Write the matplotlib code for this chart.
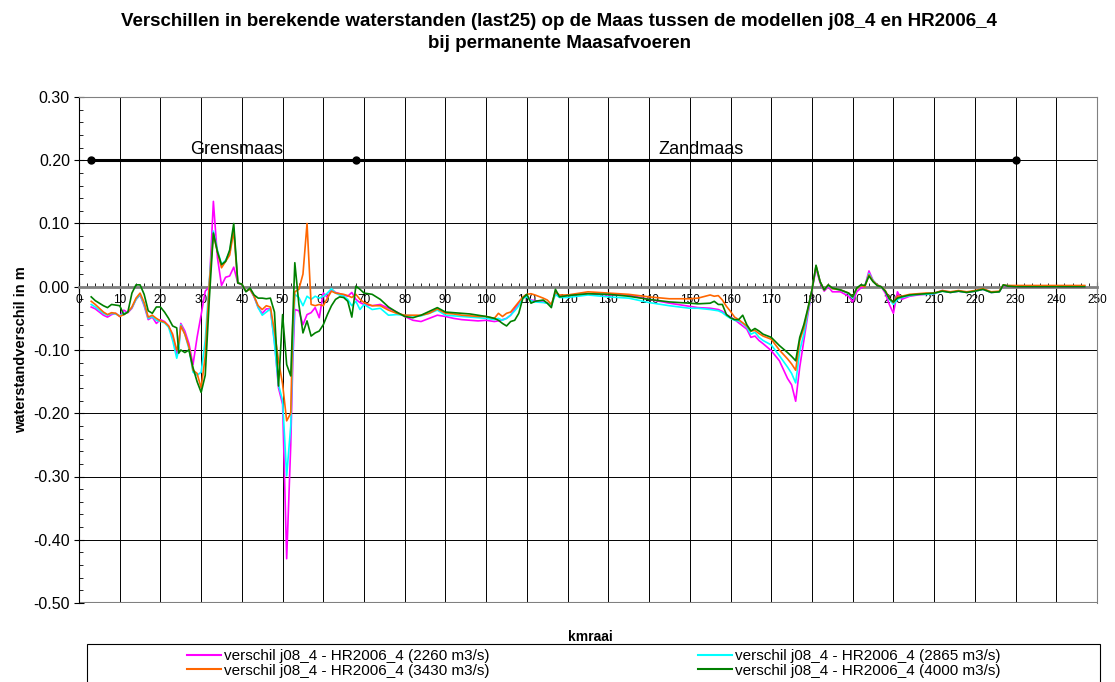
import numpy as np
import matplotlib
matplotlib.use('Agg')
import matplotlib.pyplot as plt
from matplotlib.ticker import MultipleLocator, FormatStrFormatter
from matplotlib.patches import Rectangle
from matplotlib.lines import Line2D

plt.rcParams['font.family'] = ['Liberation Sans', 'DejaVu Sans']

# kilometerraaien langs de Maas
km = [3, 4, 5, 6, 7, 8, 9, 10, 11, 12, 13, 14, 15, 16, 17, 18, 19, 20, 21, 22, 23, 24, 24.5,
      25, 26, 27, 28, 29, 30, 31, 32, 33, 34, 35, 36, 37, 38, 39, 40, 41, 42, 43, 44, 45, 46,
      47, 48, 49, 50, 51, 52, 52.5, 53, 54, 55, 56, 57, 58, 59, 60, 61, 62, 63, 64, 65, 66,
      67, 68, 69, 70, 72, 74, 76, 78, 80, 82, 84, 86, 88, 90, 92, 94, 96, 98, 100, 102, 103,
      104, 105, 106, 107, 108, 109, 110, 111, 112, 114, 115, 116, 117, 118, 120, 125, 130,
      135, 140, 145, 150, 152, 155, 156, 157, 158, 159, 160, 161, 162, 163, 164, 165, 166,
      167, 168, 170, 172, 174, 175, 176, 177, 178, 179, 180, 181, 182, 183, 184, 185, 187,
      189, 190, 191, 192, 193, 194, 195, 196, 197, 198, 199, 200, 201, 202, 204, 206, 208,
      210, 212, 214, 216, 218, 220, 222, 224, 226, 227, 228, 230, 235, 240, 247]

# verschil j08_4 - HR2006_4 (2260 m3/s)
q2260 = [-0.032, -0.035, -0.040, -0.045, -0.048, -0.044, -0.042, -0.047, -0.037, -0.041,
         -0.034, -0.020, -0.013, -0.030, -0.052, -0.048, -0.058, -0.052, -0.055, -0.062,
         -0.078, -0.108, -0.095, -0.058, -0.070, -0.090, -0.123, -0.080, -0.044, -0.007,
         0.000, 0.135, 0.046, 0.002, 0.015, 0.017, 0.031, 0.006, 0.003, -0.007, -0.004,
         -0.016, -0.033, -0.042, -0.035, -0.035, -0.086, -0.160, -0.186, -0.430, -0.250,
         -0.120, -0.036, -0.038, -0.060, -0.044, -0.041, -0.033, -0.049, -0.010, -0.017,
         -0.004, -0.009, -0.011, -0.013, -0.015, -0.009, -0.020, -0.025, -0.028, -0.030,
         -0.028, -0.034, -0.040, -0.047, -0.053, -0.055, -0.050, -0.045, -0.047, -0.050,
         -0.052, -0.053, -0.054, -0.053, -0.055, -0.054, -0.052, -0.050, -0.045, -0.035,
         -0.026, -0.018, -0.015, -0.021, -0.022, -0.024, -0.026, -0.029, -0.010, -0.015,
         -0.014, -0.011, -0.013, -0.013, -0.020, -0.026, -0.031, -0.033, -0.034, -0.035,
         -0.036, -0.039, -0.044, -0.048, -0.052, -0.057, -0.062, -0.067, -0.080, -0.078,
         -0.085, -0.090, -0.101, -0.117, -0.145, -0.155, -0.181, -0.127, -0.085, -0.044,
         -0.006, 0.029, 0.006, -0.007, 0.000, -0.008, -0.008, -0.015, -0.024, -0.008,
         -0.002, 0.001, 0.025, 0.010, 0.003, 0.000, -0.010, -0.028, -0.042, -0.008, -0.020,
         -0.015, -0.013, -0.012, -0.011, -0.006, -0.009, -0.007, -0.009, -0.007, -0.004,
         -0.009, -0.008, 0.002, 0.001, 0.000, 0.000, 0.000, 0.000]

# verschil j08_4 - HR2006_4 (2865 m3/s)
q2865 = [-0.028, -0.032, -0.037, -0.042, -0.045, -0.042, -0.043, -0.046, -0.042, -0.040,
         -0.033, -0.020, -0.012, -0.028, -0.050, -0.047, -0.053, -0.055, -0.057, -0.064,
         -0.085, -0.113, -0.100, -0.060, -0.075, -0.098, -0.135, -0.140, -0.135, -0.085,
         0.010, 0.088, 0.058, 0.035, 0.042, 0.055, 0.093, 0.006, 0.004, -0.007, -0.004,
         -0.015, -0.033, -0.045, -0.040, -0.035, -0.090, -0.155, -0.180, -0.299, -0.220,
         -0.100, -0.012, -0.017, -0.030, -0.015, -0.020, -0.015, -0.018, -0.015, -0.010,
         -0.003, -0.010, -0.013, -0.015, -0.020, -0.030, -0.023, -0.036, -0.028, -0.036,
         -0.034, -0.045, -0.044, -0.045, -0.046, -0.046, -0.042, -0.037, -0.045, -0.046,
         -0.047, -0.048, -0.049, -0.050, -0.052, -0.050, -0.053, -0.050, -0.045, -0.038,
         -0.030, -0.018, -0.016, -0.022, -0.024, -0.025, -0.026, -0.030, -0.012, -0.017,
         -0.017, -0.013, -0.016, -0.018, -0.025, -0.030, -0.034, -0.034, -0.036, -0.037,
         -0.038, -0.041, -0.046, -0.050, -0.053, -0.054, -0.058, -0.064, -0.075, -0.072,
         -0.080, -0.085, -0.092, -0.109, -0.127, -0.137, -0.152, -0.101, -0.075, -0.040,
         -0.005, 0.032, 0.008, -0.005, 0.002, -0.003, -0.005, -0.011, -0.018, -0.003,
         0.002, 0.001, 0.021, 0.010, 0.003, 0.000, -0.007, -0.020, -0.028, -0.020, -0.017,
         -0.014, -0.012, -0.012, -0.011, -0.007, -0.009, -0.007, -0.009, -0.007, -0.004,
         -0.009, -0.008, 0.003, 0.002, 0.001, 0.001, 0.001, 0.001]

# verschil j08_4 - HR2006_4 (3430 m3/s)
q3430 = [-0.023, -0.028, -0.034, -0.040, -0.044, -0.041, -0.042, -0.047, -0.044, -0.040,
         -0.032, -0.018, -0.010, -0.025, -0.048, -0.045, -0.050, -0.054, -0.056, -0.062,
         -0.075, -0.100, -0.090, -0.062, -0.075, -0.095, -0.132, -0.137, -0.160, -0.110,
         0.005, 0.083, 0.055, 0.030, 0.040, 0.050, 0.088, 0.006, 0.004, -0.007, -0.004,
         -0.015, -0.030, -0.036, -0.030, -0.032, -0.070, -0.117, -0.154, -0.212, -0.200,
         -0.060, -0.008, -0.004, 0.020, 0.100, -0.028, -0.030, -0.028, -0.030, -0.018,
         -0.007, -0.010, -0.011, -0.012, -0.014, -0.017, -0.012, -0.020, -0.025, -0.030,
         -0.030, -0.037, -0.042, -0.045, -0.045, -0.045, -0.042, -0.035, -0.042, -0.043,
         -0.045, -0.046, -0.047, -0.047, -0.050, -0.042, -0.047, -0.042, -0.040, -0.032,
         -0.024, -0.016, -0.012, -0.011, -0.013, -0.018, -0.021, -0.028, -0.008, -0.013,
         -0.013, -0.008, -0.010, -0.012, -0.016, -0.019, -0.019, -0.018, -0.013, -0.015,
         -0.014, -0.021, -0.031, -0.039, -0.048, -0.052, -0.057, -0.062, -0.070, -0.069,
         -0.074, -0.078, -0.083, -0.100, -0.114, -0.122, -0.132, -0.085, -0.065, -0.036,
         -0.005, 0.033, 0.008, -0.005, 0.003, -0.003, -0.005, -0.010, -0.016, -0.003,
         0.002, 0.000, 0.019, 0.009, 0.003, 0.000, -0.006, -0.018, -0.025, -0.015, -0.015,
         -0.012, -0.011, -0.010, -0.010, -0.006, -0.008, -0.006, -0.008, -0.006, -0.003,
         -0.008, -0.007, 0.003, 0.002, 0.002, 0.002, 0.002, 0.002]

# verschil j08_4 - HR2006_4 (4000 m3/s)
q4000 = [-0.016, -0.022, -0.026, -0.030, -0.033, -0.028, -0.029, -0.030, -0.044, -0.040,
         -0.010, 0.003, 0.003, -0.012, -0.038, -0.042, -0.032, -0.032, -0.040, -0.050,
         -0.062, -0.065, -0.105, -0.100, -0.104, -0.100, -0.128, -0.150, -0.167, -0.140,
         -0.020, 0.085, 0.055, 0.035, 0.040, 0.058, 0.100, 0.006, 0.004, -0.008, -0.002,
         -0.013, -0.018, -0.018, -0.019, -0.018, -0.040, -0.157, -0.044, -0.123, -0.141,
         -0.050, 0.038, -0.028, -0.073, -0.054, -0.078, -0.073, -0.070, -0.060, -0.044,
         -0.030, -0.020, -0.016, -0.017, -0.023, -0.048, 0.001, -0.004, -0.010, -0.012,
         -0.020, -0.032, -0.040, -0.047, -0.049, -0.045, -0.039, -0.033, -0.040, -0.041,
         -0.042, -0.043, -0.045, -0.047, -0.050, -0.053, -0.058, -0.062, -0.055, -0.053,
         -0.042, -0.018, -0.012, -0.026, -0.023, -0.021, -0.026, -0.033, -0.004, -0.016,
         -0.014, -0.011, -0.012, -0.015, -0.020, -0.024, -0.026, -0.027, -0.026, -0.023,
         -0.028, -0.028, -0.044, -0.049, -0.052, -0.052, -0.045, -0.060, -0.070, -0.066,
         -0.070, -0.075, -0.080, -0.093, -0.104, -0.110, -0.117, -0.080, -0.060, -0.034,
         -0.005, 0.034, 0.008, -0.005, 0.003, -0.002, -0.005, -0.010, -0.016, -0.002,
         0.003, 0.002, 0.017, 0.008, 0.002, 0.000, -0.007, -0.019, -0.024, -0.018, -0.016,
         -0.013, -0.012, -0.011, -0.010, -0.007, -0.009, -0.007, -0.009, -0.007, -0.004,
         -0.009, -0.008, 0.003, 0.001, 0.000, 0.000, 0.000, 0.000]

series = [q2260, q2865, q3430, q4000]
labels = ['verschil j08_4 - HR2006_4 (2260 m3/s)',
          'verschil j08_4 - HR2006_4 (2865 m3/s)',
          'verschil j08_4 - HR2006_4 (3430 m3/s)',
          'verschil j08_4 - HR2006_4 (4000 m3/s)']
colors = ['#FF00FF', '#00FFFF', '#FF6600', '#008000']

# trajecten Grensmaas / Zandmaas
reach_km = [3, 68, 230]
reach_level = [0.2, 0.2, 0.2]
reach_names = ['Grensmaas', 'Zandmaas']
reach_label_km = [38.7, 152.8]

fig = plt.figure(figsize=(11.15, 6.82), dpi=100)
ax = fig.add_axes([79/1115, 1-603/682, 1018/1115, 506/682])

for s, c, l in zip(series, colors, labels):
    ax.plot(km, s, color=c, lw=1.2, label=l, zorder=3)

ax.plot(reach_km, reach_level, color='black', lw=2.2, marker='o', ms=5, zorder=4)
for name, xk in zip(reach_names, reach_label_km):
    ax.text(xk, 0.203, name, ha='center', va='bottom', fontsize=13, zorder=4)

ax.set_xlim(0, 250)
ax.set_ylim(-0.5, 0.3)
ax.xaxis.set_major_locator(MultipleLocator(10))
ax.xaxis.set_minor_locator(MultipleLocator(2))
ax.yaxis.set_major_locator(MultipleLocator(0.1))
ax.yaxis.set_minor_locator(MultipleLocator(0.02))
ax.yaxis.set_major_formatter(FormatStrFormatter('%.2f'))

ax.grid(True, which='major', color='black', lw=0.7)
ax.spines['bottom'].set_position(('data', 0))
ax.spines['bottom'].set_color('#808080')
ax.spines['bottom'].set_linewidth(2)
ax.spines['top'].set_color('#808080')
ax.spines['right'].set_color('#808080')
ax.spines['left'].set_color('black')
ax.axhline(-0.5, color='#808080', lw=1.5, zorder=2.5)

ax.tick_params(axis='x', which='major', direction='inout', length=7, labelsize=8.5, pad=2)
ax.tick_params(axis='x', which='minor', direction='in', length=3)
ax.tick_params(axis='y', which='major', direction='inout', length=7, labelsize=11.5, pad=3)
ax.tick_params(axis='y', which='minor', direction='in', length=3)

fig.text(559/1115, 1-22/682, 'Verschillen in berekende waterstanden (last25) op de Maas tussen de modellen j08_4 en HR2006_4',
         ha='center', va='center', fontsize=13.5, weight='bold')
fig.text(559/1115, 1-43/682, 'bij permanente Maasafvoeren',
         ha='center', va='center', fontsize=13.5, weight='bold')
fig.text(21/1115, 1-350/682, 'waterstandverschil in m', rotation=90,
         ha='center', va='center', fontsize=10.5, weight='bold')
fig.text(590/1115, 1-637/682, 'kmraai', ha='center', va='center', fontsize=10, weight='bold')

# legenda
fig.patches.append(Rectangle((87/1115, -0.02), 1013/1115, 0.02+1-644/682,
                             transform=fig.transFigure, fill=False, edgecolor='black', lw=0.8))
h = [Line2D([], [], color=c, lw=1.5) for c in colors]
for cols, xa in [((0, 2), 187/1115), ((1, 3), 698/1115)]:
    leg = fig.legend([h[i] for i in cols], [labels[i] for i in cols], loc='upper left',
                     bbox_to_anchor=(xa, 1-649/682), frameon=False, fontsize=11,
                     borderpad=0, borderaxespad=0, labelspacing=0.05,
                     handlelength=2.2, handletextpad=0.2)

fig.savefig('out.png', dpi=100)
